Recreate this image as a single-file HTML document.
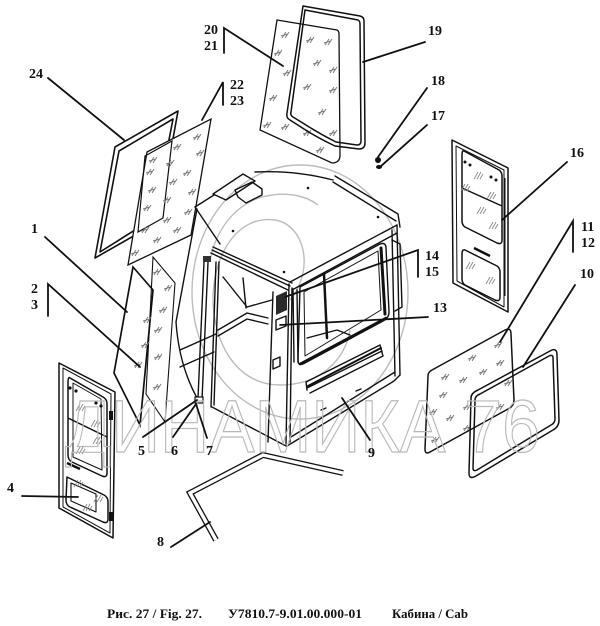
<!DOCTYPE html>
<html><head><meta charset="utf-8"><style>
html,body{margin:0;padding:0;background:#fff;}
svg{display:block}
.l{font-family:"Liberation Serif",serif;font-weight:bold;font-size:14px;fill:#111}
.f{font-family:"Liberation Serif",serif;font-weight:bold;font-size:12.5px;fill:#111}
</style></head><body>
<svg width="600" height="626" viewBox="0 0 600 626" xmlns="http://www.w3.org/2000/svg">
<defs>
<g id="h" stroke="#7a7a7a" stroke-width="1" fill="none"><path d="M-3,3 L1,-3 M0,3 L4,-3 M-4,1 L3,-1"/></g>
<g id="d" stroke="#8a8a8a" stroke-width="0.9" fill="none"><path d="M-4,4 L0,-3 M-1,4 L3,-3 M2,4 L5,-1"/></g>
</defs>

<!-- watermark logo -->
<g fill="none" stroke="#bcbcbc" stroke-width="1.4">
<ellipse cx="300" cy="292" rx="108" ry="127"/>
<path d="M290,300 C315,270 305,225 275,220 C240,215 215,250 213,295 C212,340 235,385 280,385 C320,385 345,360 350,330"/>
<path d="M210,262 C215,230 235,205 262,197 C285,191 305,195 318,205"/>
</g>

<!-- frame 24 -->
<g fill="none" stroke="#111" stroke-width="1.6" stroke-linejoin="round">
<polygon points="115,147 178,111 158,222 95,258"/>
<polygon points="119,151 173,119 154,218 100,252"/>
</g>
<!-- glass 22 -->
<g fill="#fff" stroke="#111" stroke-width="1.3">
<polygon points="147,152 211,119 191,235 128,265"/>
</g>
<polygon points="145,156 172,141 163,218 138,232" fill="none" stroke="#111" stroke-width="1.2"/>
<g>
<use href="#h" x="153" y="160"/><use href="#h" x="177" y="147"/><use href="#h" x="197" y="137"/>
<use href="#h" x="150" y="172"/><use href="#h" x="170" y="163"/><use href="#h" x="187" y="173"/>
<use href="#h" x="200" y="153"/><use href="#h" x="152" y="190"/><use href="#h" x="173" y="182"/>
<use href="#h" x="192" y="192"/><use href="#h" x="147" y="208"/><use href="#h" x="167" y="200"/>
<use href="#h" x="188" y="212"/><use href="#h" x="145" y="230"/><use href="#h" x="167" y="220"/>
<use href="#h" x="157" y="240"/><use href="#h" x="177" y="230"/><use href="#h" x="135" y="253"/>
</g>

<!-- glass 20 and frame 19 -->
<path d="M277,20 L337,30 Q339,31 339,34 L340,155 Q340,163 332,163 L260,130 Z" fill="#fff" stroke="#111" stroke-width="1.3"/>
<g>
<use href="#h" x="285" y="35"/><use href="#h" x="278" y="53"/><use href="#h" x="287" y="73"/>
<use href="#h" x="273" y="98"/><use href="#h" x="267" y="125"/><use href="#h" x="285" y="127"/>
<use href="#h" x="310" y="40"/><use href="#h" x="328" y="42"/><use href="#h" x="317" y="63"/>
<use href="#h" x="333" y="70"/><use href="#h" x="307" y="87"/><use href="#h" x="333" y="90"/>
<use href="#h" x="322" y="112"/><use href="#h" x="333" y="133"/><use href="#h" x="307" y="133"/>
<use href="#h" x="320" y="150"/>
</g>
<g fill="none" stroke="#111" stroke-width="1.5" stroke-linejoin="round">
<path d="M303,6 L360,16 Q364,17 364,21 L365,143 Q365,149 359,149 L335,146 Q318,138 304,129 L290,120 Q286,118 287,113 Z"/>
<path d="M305,10 L358,20 Q360,21 360,24 L361,141 Q361,145 357,145 L336,142 Q320,134 306,125 L293,117 Q290,115 291,112 Z"/>
</g>

<!-- 17/18 -->
<circle cx="378" cy="160" r="3" fill="#111"/>
<ellipse cx="379" cy="167" rx="3" ry="2" fill="#111"/>

<!-- glass panels 1 and 2/3 -->
<polygon points="153,257 175,283 165,422 146,394" fill="none" stroke="#111" stroke-width="1.1"/>
<polygon points="133,267 153,290 140,425 114,373" fill="none" stroke="#111" stroke-width="1.7"/>
<g>
<use href="#h" x="157" y="272"/><use href="#h" x="168" y="288"/><use href="#h" x="163" y="310"/>
<use href="#h" x="147" y="320"/><use href="#h" x="158" y="330"/><use href="#h" x="145" y="345"/>
<use href="#h" x="158" y="357"/><use href="#h" x="138" y="365"/><use href="#h" x="157" y="387"/>
</g>

<!-- CAB -->
<g fill="none" stroke="#111" stroke-width="1.4" stroke-linejoin="round" stroke-linecap="round">
<path d="M197,209 L176,322 Q179,365 197,398"/>
<path d="M195,207 L214,195"/>
<path d="M213,194 L243,174 L255,181 L226,200 Z"/>
<path d="M235,190 L252,182 L262,189 L262,195 L246,203 L238,197 Z"/>
<path d="M255,172 Q295,170 333,180"/>
<path d="M335,176 L398,214 M333,182 L396,221 M398,214 L400,227"/>
<path d="M195,207 L220,244"/>
<path d="M213,247 L292,283 M211,253 L288,290 M212,250 L290,286"/>
<path d="M290,282 L397,225 M292,290 L397,233"/>
<path d="M289,284 L286,444 M292,288 L290,442"/>
<!-- left face -->
<path d="M204,262 L198,398 M208,262 L202,400 M216,262 L211,407 M219,262 L214,405"/>
<path d="M223,277 L247,307 L272,300 M243,278 L246,308"/>
<path d="M218,330 L247,313 L268,318 M218,336 L247,319 L268,324"/>
<path d="M180,350 L216,334 M180,367 L214,352"/>
<path d="M273,292 L268,442"/>
<path d="M212,407 L286,446"/>
<polygon points="276,320 286,316 286,326 276,330"/>
<polygon points="273,360 280,357 280,366 273,369"/>
<!-- right face -->
<path d="M397,225 L400,375 M392,230 L395,376"/>
<path d="M400,375 L394,381 L287,446 M395,372 L291,437"/>
<path d="M300,287 L380,244 Q386,242 386,248 L389,312 Q389,318 383,321 L303,364 Q298,366 298,360 Z"/>
<path d="M304,292 L378,251 L381,310 L305,356 Z" stroke-width="1"/>
<path d="M293,289 L294,362 M297,290 L298,362"/>
<path d="M392,240 L400,244 L402,307 L395,311"/>
<path d="M306,382 L380,345 M307,388 L382,351 M310,393 L383,356 M306,382 L307,390 M380,345 L383,356"/>
<path d="M321,410 L326,408 M356,391 L361,389"/>
<path d="M307,338 L337,330 L350,335"/>
</g>
<g stroke="#111" fill="none" stroke-linecap="round">
<path d="M381,248 L385,314" stroke-width="3"/>
<path d="M324,274 L327,338" stroke-width="2.5"/>
<path d="M300,364 L386,318" stroke-width="2.5"/>
<path d="M308,386 L381,348" stroke-width="2"/>
</g>
<polygon points="276,296 287,291 287,310 276,315" fill="#2a2a2a"/>
<rect x="203" y="256" width="8" height="6" fill="#333"/>
<rect x="195" y="397" width="8" height="6" fill="#fff" stroke="#111" stroke-width="1.2"/>
<g fill="#111">
<circle cx="308" cy="188" r="1.3"/><circle cx="233" cy="231" r="1.3"/><circle cx="378" cy="217" r="1.3"/><circle cx="284" cy="272" r="1.3"/>
</g>

<!-- door 4 -->
<g fill="none" stroke="#111" stroke-width="1.5" stroke-linejoin="round">
<polygon points="59,363 115,392 113,538 59,508"/>
<polygon points="63,368 111,394 110,533 63,507" stroke-width="1"/>
<path d="M70,378 L103,397 Q107,399 107,404 L107,473 Q107,478 102,476 L72,462 Q68,460 68,455 L68,383 Q68,376 70,378 Z"/>
<path d="M73,383 L101,399 L102,470 L73,457 Z" stroke-width="1"/>
<path d="M68,418 L107,437"/>
<path d="M67,477 L104,495 Q108,497 108,502 L108,519 Q108,524 103,522 L70,507 Q66,505 66,500 Z"/>
<path d="M71,483 L96,494 L96,512 L71,501 Z" stroke-width="1.1"/>
<path d="M67,463 L80,469" stroke-width="2.5"/>
</g>
<g fill="#111">
<circle cx="70" cy="388" r="1.6"/><circle cx="76" cy="391" r="1.6"/><circle cx="96" cy="403" r="1.6"/><circle cx="101" cy="406" r="1.6"/>
<rect x="109" y="411" width="4" height="9"/><rect x="109" y="512" width="4" height="9"/>
</g>
<g><use href="#d" x="80" y="407"/><use href="#d" x="95" y="423"/><use href="#d" x="80" y="450"/><use href="#d" x="97" y="440"/><use href="#d" x="78" y="483"/><use href="#d" x="98" y="498"/><use href="#d" x="87" y="507"/></g>

<!-- door 16 -->
<g fill="none" stroke="#111" stroke-width="1.5" stroke-linejoin="round">
<polygon points="452,140 508,168 508,312 453,283"/>
<polygon points="456,146 504,170 504,307 457,281" stroke-width="1"/>
<path d="M464,151 L499,170 Q502,172 502,176 L502,240 Q502,245 497,243 L465,227 Q462,225 462,221 L462,155 Q462,150 464,151 Z"/>
<path d="M462,188 L502,206"/>
<path d="M465,250 L497,266 Q500,268 500,272 L500,297 Q500,302 495,300 L465,285 Q462,283 462,279 L462,254 Q462,249 465,250 Z"/>
<path d="M474,248 L490,256" stroke-width="2.5"/>
<path d="M505,178 L505,296" stroke-width="1"/>
</g>
<g fill="#111">
<circle cx="465" cy="162" r="1.5"/><circle cx="470" cy="165" r="1.5"/><circle cx="491" cy="177" r="1.5"/><circle cx="496" cy="180" r="1.5"/>
</g>
<g><use href="#d" x="478" y="175"/><use href="#d" x="491" y="195"/><use href="#d" x="465" y="187"/><use href="#d" x="481" y="210"/><use href="#d" x="493" y="225"/><use href="#d" x="470" y="265"/><use href="#d" x="490" y="280"/></g>

<!-- glass 11/12 -->
<path d="M432,370 L505,330 Q511,327 511,334 L514,400 Q514,406 508,409 L430,452 Q425,455 425,449 L428,376 Q428,372 432,370 Z" fill="none" stroke="#111" stroke-width="1.5"/>
<g>
<use href="#h" x="445" y="377"/><use href="#h" x="472" y="358"/><use href="#h" x="498" y="345"/>
<use href="#h" x="463" y="380"/><use href="#h" x="483" y="372"/><use href="#h" x="500" y="363"/>
<use href="#h" x="443" y="395"/><use href="#h" x="508" y="383"/><use href="#h" x="467" y="407"/>
<use href="#h" x="433" y="412"/><use href="#h" x="450" y="418"/><use href="#h" x="467" y="428"/>
<use href="#h" x="500" y="407"/><use href="#h" x="435" y="440"/>
</g>
<!-- seal 10 -->
<g fill="none" stroke="#111" stroke-width="1.5">
<path d="M478,390 L550,351 Q557,347 557,355 L559,420 Q559,427 553,430 L476,476 Q469,480 469,473 L471,398 Q471,393 478,390 Z"/>
<path d="M480,394 L549,356 Q553,354 553,358 L555,419 Q555,423 551,425 L477,470 Q473,472 473,468 L475,400 Q475,396 480,394 Z"/>
</g>

<!-- rod 8 -->
<path d="M216,540 L190,493 L263,455 L343,473" fill="none" stroke="#111" stroke-width="6" stroke-linejoin="miter"/>
<path d="M216,540 L190,493 L263,455 L343,473" fill="none" stroke="#fff" stroke-width="3.4" stroke-linejoin="miter"/>

<!-- watermark text -->
<text x="65" y="452" font-family="Liberation Sans, sans-serif" font-size="74" textLength="475" lengthAdjust="spacingAndGlyphs" fill="none" stroke="#b9b9b9" stroke-width="1.2">ДИНАМИКА 76</text>

<!-- leaders -->
<g fill="none" stroke="#111" stroke-width="1.8" stroke-linecap="round">
<path d="M48,78 L124,140"/>
<path d="M224,53 L224,28 L283,66"/>
<path d="M223,105 L223,82 L202,120"/>
<path d="M45,237 L127,312"/>
<path d="M48,316 L48,284 L140,367"/>
<path d="M425,42 L363,62"/>
<path d="M427,88 L378,157"/>
<path d="M427,125 L380,167"/>
<path d="M567,162 L502,220"/>
<path d="M573,252 L573,221 L500,342"/>
<path d="M575,285 L523,367"/>
<path d="M418,277 L418,250 L285,297"/>
<path d="M428,317 L280,325"/>
<path d="M370,440 L342,398"/>
<path d="M143,437 L197,400"/>
<path d="M173,437 L196,404"/>
<path d="M207,438 L196,404"/>
<path d="M22,496 L78,497"/>
<path d="M171,547 L210,522"/>
</g>

<!-- labels -->
<text class="l" x="29" y="78">24</text>
<text class="l" x="204" y="34">20</text>
<text class="l" x="204" y="50">21</text>
<text class="l" x="230" y="89">22</text>
<text class="l" x="230" y="105">23</text>
<text class="l" x="31" y="233">1</text>
<text class="l" x="31" y="293">2</text>
<text class="l" x="31" y="309">3</text>
<text class="l" x="428" y="35">19</text>
<text class="l" x="431" y="85">18</text>
<text class="l" x="431" y="120">17</text>
<text class="l" x="570" y="157">16</text>
<text class="l" x="581" y="231">11</text>
<text class="l" x="581" y="247">12</text>
<text class="l" x="580" y="278">10</text>
<text class="l" x="425" y="260">14</text>
<text class="l" x="425" y="276">15</text>
<text class="l" x="433" y="312">13</text>
<text class="l" x="368" y="457">9</text>
<text class="l" x="138" y="455">5</text>
<text class="l" x="171" y="455">6</text>
<text class="l" x="206" y="455">7</text>
<text class="l" x="7" y="492">4</text>
<text class="l" x="157" y="546">8</text>

<!-- footer -->
<text class="f" x="107" y="618" textLength="95" lengthAdjust="spacingAndGlyphs">Рис. 27 / Fig. 27.</text>
<text class="f" x="228" y="618" textLength="134" lengthAdjust="spacingAndGlyphs">У7810.7-9.01.00.000-01</text>
<text class="f" x="392" y="618" textLength="76" lengthAdjust="spacingAndGlyphs">Кабина / Cab</text>
</svg>
</body></html>
